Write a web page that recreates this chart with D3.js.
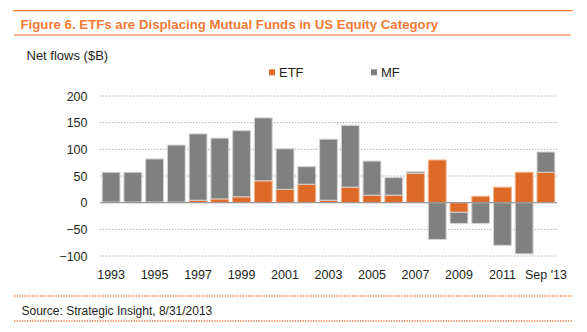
<!DOCTYPE html>
<html>
<head>
<meta charset="utf-8">
<script src="https://cdn.jsdelivr.net/npm/d3@7"></script>
<style>
  html, body { margin: 0; padding: 0; background: #fff; }
  svg { display: block; font-family: "Liberation Sans", Arial, Helvetica, sans-serif; }
</style>
</head>
<body>
<svg id="chart" width="587" height="332"></svg>
<script>
// Annual US equity net flows, $B
const years = d3.range(1993, 2014);
const tickLabels = ["1993", "1995", "1997", "1999", "2001", "2003", "2005", "2007", "2009", "2011", "Sep '13"];
const etfFlows = [1, 1, 1, 1, 4.5, 7, 11, 41, 25, 34.5, 4.5, 29, 14, 14, 55, 80, -18, 12, 29, 57, 57];
const mfFlows = [56, 56, 81, 107, 124.5, 114, 124, 118, 76, 33, 114.5, 116, 64, 33, 3, -69, -21, -39, -80, -96, 38];
const yTicks = [-100, -50, 0, 50, 100, 150, 200];
const seriesNames = ["ETF", "MF"];

const colors = { ETF: "#dd6a27", MF: "#808080" };
const edge = { ETF: "#f2b58f", MF: "#d4d4d4" };
const orange = "#f47a36";
const textColor = "#231f20";

const svg = d3.select("#chart");

// Header rules and title
svg.append("line").attr("x1", 13).attr("x2", 573).attr("y1", 10.7).attr("y2", 10.7)
  .attr("stroke", orange).attr("stroke-width", 1.3);
svg.append("line").attr("x1", 14).attr("x2", 571).attr("y1", 35).attr("y2", 35)
  .attr("stroke", "#f7a170").attr("stroke-width", 1.6);

const title = svg.append("text")
  .attr("x", 20.5).attr("y", 28.5)
  .attr("fill", orange)
  .attr("font-weight", "bold")
  .attr("font-size", 13)
  .text("Figure 6. ETFs are Displacing Mutual Funds in US Equity Category");
const tw = title.node().getComputedTextLength();
title.attr("font-size", 13 * 418 / tw);

svg.append("text").attr("x", 26.5).attr("y", 60)
  .attr("fill", textColor).attr("font-size", 13)
  .text("Net flows ($B)");

// Legend
const legendX = { ETF: 269, MF: 371 };
seriesNames.forEach(name => {
  svg.append("rect").attr("x", legendX[name]).attr("y", 69.3)
    .attr("width", 6).attr("height", 6).attr("fill", colors[name]);
  svg.append("text").attr("x", legendX[name] + 10).attr("y", 76.6)
    .attr("fill", textColor).attr("font-size", 13).text(name);
});

// Scales
const x = d3.scaleBand().domain(years).range([100, 557]).paddingInner(0.18).paddingOuter(0.1);
const y = d3.scaleLinear().domain([-100, 200]).range([256, 96]);

// Dotted gridlines
svg.append("g").selectAll("line")
  .data(yTicks.filter(d => d !== 0))
  .join("line")
  .attr("x1", 100).attr("x2", 557)
  .attr("y1", d => y(d)).attr("y2", d => y(d))
  .attr("stroke", "#a0a0a0").attr("stroke-width", 0.9)
  .attr("stroke-dasharray", "1.4,1.6");

// Y axis labels
const yAxis = d3.axisLeft(y).tickValues(yTicks).tickSize(0).tickPadding(0);
const yg = svg.append("g").attr("transform", "translate(87.5,0)").call(yAxis);
yg.select(".domain").remove();
yg.selectAll("text").attr("font-size", 12.5).attr("fill", textColor)
  .attr("font-family", "\"Liberation Sans\", Arial, sans-serif");

// Stacked bars
const rows = years.map((yr, i) => ({ year: yr, ETF: etfFlows[i], MF: mfFlows[i] }));
const stacked = d3.stack().keys(seriesNames).offset(d3.stackOffsetDiverging)(rows);

svg.append("g").selectAll("g")
  .data(stacked)
  .join("g")
  .attr("fill", d => colors[d.key])
  .attr("stroke", d => edge[d.key])
  .attr("stroke-width", 1)
  .selectAll("rect")
  .data(d => d)
  .join("rect")
  .attr("x", d => x(d.data.year))
  .attr("width", x.bandwidth())
  .attr("y", d => y(Math.max(d[0], d[1])))
  .attr("height", d => Math.abs(y(d[0]) - y(d[1])));

// Zero line
svg.append("line").attr("x1", 100).attr("x2", 557).attr("y1", y(0)).attr("y2", y(0))
  .attr("stroke", "#9a9a9a").attr("stroke-width", 1.2);

// X axis labels, every other year
const labelYears = years.filter((d, i) => i % 2 === 0);
const xAxis = d3.axisBottom(x).tickValues(labelYears)
  .tickFormat((d, i) => tickLabels[i]).tickSize(0).tickPadding(0);
const xg = svg.append("g").attr("transform", "translate(0,270)").call(xAxis);
xg.select(".domain").remove();
xg.selectAll("text").attr("font-size", 12.5).attr("fill", textColor)
  .attr("font-family", "\"Liberation Sans\", Arial, sans-serif");

// Footer
[296, 321].forEach(yy => {
  svg.append("line").attr("x1", 14).attr("x2", 572).attr("y1", yy).attr("y2", yy)
    .attr("stroke", orange).attr("stroke-width", 1.3)
    .attr("stroke-dasharray", "1.3,1.3");
});
svg.append("text").attr("x", 21.5).attr("y", 315)
  .attr("fill", textColor).attr("font-size", 12)
  .text("Source: Strategic Insight, 8/31/2013");
</script>
</body>
</html>
